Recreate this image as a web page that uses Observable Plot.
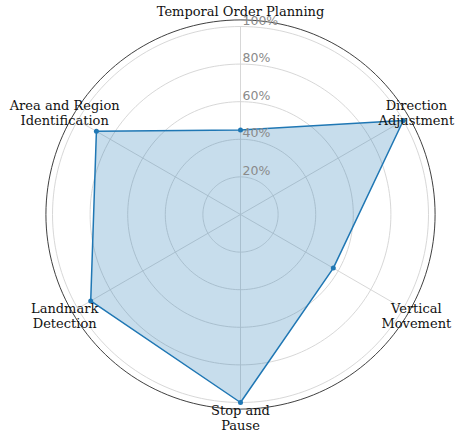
<!DOCTYPE html>
<html><head><meta charset="utf-8">
<script src="https://cdn.jsdelivr.net/npm/d3@7"></script>
<script src="https://cdn.jsdelivr.net/npm/@observablehq/plot@0.6"></script>
<style>body{margin:0;background:#fff}#chart svg{display:block}</style>
</head><body><div id="chart"></div>
<script>
const categories = ["Temporal Order Planning", "Direction Adjustment", "Vertical Movement", "Stop and Pause", "Landmark Detection", "Area and Region Identification"];
const categoryLabels = ["Temporal Order Planning", "Direction\nAdjustment", "Vertical\nMovement", "Stop and\nPause", "Landmark\nDetection", "Area and Region\nIdentification"];
const values = [0.45, 1.0, 0.57, 1.0, 0.92, 0.885];
const gridLevels = [0.2, 0.4, 0.6, 0.8, 1.0];
const tickLabels = ["20%", "40%", "60%", "80%", "100%"];
const frameLevel = 1.035;
const labelLevel = 1.08;

const n = categories.length;
const ang = (i) => (i / n) * 2 * Math.PI;
const px = (r, a) => r * Math.sin(a);
const py = (r, a) => r * Math.cos(a);

const ringPts = [];
for (const l of [...gridLevels, frameLevel]) {
  for (let d = 0; d < 360; d += 2) ringPts.push({l, a: d * Math.PI / 180});
}
const pts = categories.map((c, i) => ({c, i, v: values[i]}));
const unit = 188;

const chart = Plot.plot({
  width: 458,
  height: 435,
  margin: 0,
  x: {domain: [-240 / unit, 218 / unit], axis: null},
  y: {domain: [-221 / unit, 214 / unit], axis: null},
  style: {background: "#fff"},
  marks: [
    Plot.line(ringPts.filter(d => d.l !== frameLevel), {
      x: d => px(d.l, d.a), y: d => py(d.l, d.a), z: "l",
      curve: "linear-closed", stroke: "#d2d2d2", strokeWidth: 0.9
    }),
    Plot.line(ringPts.filter(d => d.l === frameLevel), {
      x: d => px(d.l, d.a), y: d => py(d.l, d.a), z: "l",
      curve: "linear-closed", stroke: "#2a2a2a", strokeWidth: 0.9
    }),
    Plot.link(pts, {
      x1: 0, y1: 0,
      x2: d => px(1, ang(d.i)), y2: d => py(1, ang(d.i)),
      stroke: "#d2d2d2", strokeWidth: 0.9
    }),
    Plot.line(pts, {
      x: d => px(d.v, ang(d.i)), y: d => py(d.v, ang(d.i)),
      curve: "linear-closed", fill: "#1f77b4", fillOpacity: 0.25,
      stroke: "#1f77b4", strokeWidth: 1.5
    }),
    Plot.dot(pts, {
      x: d => px(d.v, ang(d.i)), y: d => py(d.v, ang(d.i)),
      r: 2.5, fill: "#1f77b4"
    }),
    Plot.text(gridLevels, {
      x: 0, y: d => d, text: (d, i) => tickLabels[i],
      dx: 2, dy: -2, textAnchor: "start", lineAnchor: "bottom",
      fill: "#8a8a8a", fontSize: 12.5, fontFamily: "DejaVu Sans"
    }),
    Plot.text(pts, {
      x: d => px(labelLevel, ang(d.i)), y: d => py(labelLevel, ang(d.i)),
      text: d => categoryLabels[d.i], lineAnchor: "middle", textAnchor: "middle",
      fill: "#111", fontSize: 13, fontFamily: "DejaVu Serif", lineHeight: 1.15
    })
  ]
});
document.getElementById("chart").append(chart);
</script>
</body></html>
